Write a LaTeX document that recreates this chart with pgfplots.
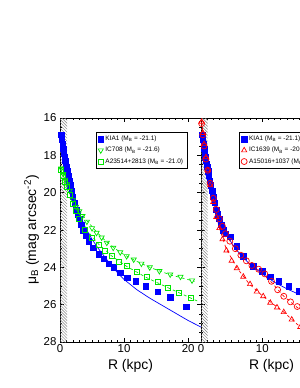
\documentclass[border=0pt]{standalone}
\usepackage{pgfplots}
\pgfplotsset{compat=1.18}
\usepackage{fontspec}
\setmainfont{Liberation Sans}
\usetikzlibrary{patterns}
\definecolor{mblue}{RGB}{0,0,255}
\definecolor{mgreen}{RGB}{0,230,0}
\definecolor{mred}{RGB}{255,0,0}
\pgfplotsset{
 panel/.style={
  scale only axis, width=141bp, height=224bp,
  y dir=reverse, ymin=16, ymax=28,
  ytick={16,18,...,28}, minor y tick num=3,
  xtick={0,10,20}, minor x tick num=9,
  tick align=inside, tick pos=both,
  major tick length=4bp, minor tick length=2bp,
  every tick/.style={black, line width=0.5pt},
  axis line style={line width=0.6pt},
  /pgf/number format/assume math mode=true,
  tick label style={font=\fontsize{11.5}{12}\selectfont},
  xticklabel style={yshift=1bp},
  label style={font=\fontsize{14}{14}\selectfont},
  xlabel={R (kpc)},
  legend cell align=left,
  legend style={font=\fontsize{6.5}{7.5}\selectfont, draw=black, line width=0.6pt,
     inner sep=1.8bp, row sep=1bp, anchor=north west},
  clip=true,
 },
 hatch/.style={draw=none, pattern=north west lines, pattern color=gray, forget plot},
}
\begin{document}
\begin{tikzpicture}[x=1bp,y=1bp]
\clip (0,0) rectangle (300,388);
\begin{axis}[panel, at={(60bp,46bp)}, anchor=south west, xmin=0, xmax=22,
  ylabel={μ\textsubscript{B} (mag arcsec\textsuperscript{-2})},
  ylabel style={xshift=0bp, yshift=-2bp},
  legend style={at={(rel axis cs:0.255,0.9375)}}]
\addplot[hatch] coordinates {(0,16) (1.1,16) (1.1,28) (0,28)} -- cycle;
% KIA1 fit
\addplot[mblue, line width=0.7pt, forget plot] coordinates {
(0.2,16.9)(0.5,17.6)(1,18.5)(1.5,19.3)(2,20.0)(3,21.1)(4,21.9)(5,22.5)(6,23.0)(7,23.45)(8,23.9)(9,24.3)(10,24.65)(12,25.2)(14,25.65)(16,26.05)(18,26.45)(20,26.85)(22,27.2)};
% IC708 fit
\addplot[mgreen, dashed, line width=0.7pt, forget plot] coordinates {
(0.1,18.6)(1,19.4)(2,20.3)(3,20.95)(4.2,21.5)(5.7,22.1)(7.3,22.65)(9.4,23.2)(11.5,23.6)(14,24.0)(17.2,24.4)(21,24.75)};
% A23514 fit
\addplot[mgreen, dashed, line width=0.7pt, forget plot] coordinates {
(0.1,18.7)(1,19.5)(2,20.5)(3,21.3)(3.9,21.9)(6,22.75)(8.1,23.4)(10.4,23.95)(13.5,24.55)(16.9,25.1)(21.4,25.8)};
\addplot[only marks, mark=square*, mark size=2.7bp, color=mblue] coordinates {
(0.2,16.9)(0.3,17.15)(0.4,17.4)(0.5,17.65)(0.6,17.9)(0.7,18.1)(0.8,18.3)(0.9,18.45)(1.0,18.6)(1.15,18.85)(1.3,19.1)(1.45,19.35)(1.6,19.6)(1.8,19.9)(2.0,20.2)(2.25,20.55)(2.5,20.9)(2.75,21.15)(3.0,21.4)(3.3,21.7)(3.6,22.0)(4.0,22.3)(4.5,22.6)(5.2,22.95)(6.0,23.3)(6.8,23.55)(7.6,23.8)(8.4,24.0)(9.4,24.3)(10.5,24.55)(11.8,24.74)(13.4,25.0)(15.2,25.3)(17.2,25.6)(19.7,26.1)};
\addlegendentry{KIA1 (M\textsubscript{B} = -21.1)}
\addplot[only marks, mark=triangle, mark size=3bp, color=mgreen, line width=0.7pt,
  every mark/.append style={rotate=180}] coordinates {
(0.2,18.7)(0.5,19.0)(0.8,19.3)(1.1,19.55)(1.5,19.9)(2.0,20.4)(2.5,20.75)(3.0,21.0)(3.5,21.25)(4.2,21.55)(5.0,21.9)(5.7,22.15)(6.5,22.4)(7.3,22.68)(8.3,22.95)(9.4,23.19)(10.4,23.4)(11.5,23.58)(12.7,23.8)(14.0,24.0)(15.5,24.2)(17.2,24.38)(18.8,24.5)(20.6,24.7)};
\addlegendentry{IC708 (M\textsubscript{B} = -21.6)}
\addplot[only marks, mark=square, mark size=2.5bp, color=mgreen, line width=0.7pt] coordinates {
(0.2,18.8)(0.5,19.1)(0.8,19.4)(1.1,19.7)(1.5,20.1)(2.0,20.6)(2.5,21.0)(3.0,21.4)(3.9,21.97)(5.0,22.4)(6.0,22.78)(7.0,23.1)(8.1,23.4)(9.2,23.7)(10.4,23.94)(12.0,24.25)(13.5,24.52)(15.2,24.8)(16.9,25.1)(18.6,25.36)(20.4,25.65)};
\addlegendentry{A23514+2813 (M\textsubscript{B} = -21.0)}
\end{axis}
\begin{axis}[panel, at={(201bp,46bp)}, anchor=south west, xmin=0, xmax=23,
  yticklabels={},
  legend style={at={(rel axis cs:0.27,0.9375)}}]
\addplot[hatch] coordinates {(0,16) (1.1,16) (1.1,28) (0,28)} -- cycle;
\addplot[mblue, line width=0.7pt, forget plot] coordinates {
(0.2,16.9)(1,18.6)(2,20.2)(3,21.3)(4,22.1)(5,22.7)(6,23.15)(8,23.85)(10,24.35)(12,24.8)(14,25.15)(16,25.45)(18,25.75)(20,26.0)(23,26.4)};
% IC1639 fit
\addplot[mred, dashed, line width=0.7pt, forget plot] coordinates {
(0.1,16.2)(1.1,18.8)(2,20.5)(3,21.9)(4.1,23.0)(5.8,24.0)(7.9,24.9)(10.1,25.55)(13.5,26.4)(16.2,27.2)(19,28.1)};
% A15016 fit
\addplot[mred, dashed, line width=0.7pt, forget plot] coordinates {
(0.1,16.3)(1.1,18.8)(2,20.3)(3,21.4)(4,22.2)(5.5,23.0)(7.3,23.65)(9.4,24.15)(11.5,24.8)(13.5,25.55)(15.7,26.15)(18,26.7)(23,27.9)};
\addplot[only marks, mark=square*, mark size=2.7bp, color=mblue] coordinates {
(0.2,16.9)(0.3,17.15)(0.4,17.4)(0.5,17.65)(0.6,17.9)(0.7,18.1)(0.8,18.3)(0.9,18.45)(1.0,18.6)(1.15,18.85)(1.3,19.1)(1.45,19.35)(1.6,19.6)(1.8,19.9)(2.0,20.2)(2.25,20.55)(2.5,20.9)(2.75,21.15)(3.0,21.4)(3.3,21.7)(3.6,22.0)(4.0,22.2)(4.75,22.35)(5.85,22.87)(6.9,23.4)(8.5,23.94)(10.0,24.2)(11.3,24.5)(12.7,24.74)(14.3,25.0)(16.0,25.27)(18.2,25.6)(20.8,26.1)};
\addlegendentry{KIA1 (M\textsubscript{B} = -21.1)}
\addplot[only marks, mark=triangle, mark size=3bp, color=mred, line width=0.7pt] coordinates {
(0.1,16.2)(0.3,16.8)(0.5,17.4)(0.8,18.1)(1.1,18.8)(1.5,19.6)(2.0,20.5)(2.5,21.3)(3.0,21.9)(3.5,22.5)(4.15,23.1)(5.0,23.65)(5.85,24.05)(6.9,24.5)(8.0,24.9)(9.1,25.3)(10.15,25.55)(11.3,25.9)(12.4,26.15)(13.5,26.4)(14.8,26.8)(16.2,27.2)(17.5,27.6)};
\addlegendentry{IC1639 (M\textsubscript{B} = -20.6)}
\addplot[only marks, mark=o, mark size=3bp, color=mred, line width=0.7pt] coordinates {
(0.1,16.3)(0.3,16.9)(0.5,17.5)(0.8,18.2)(1.1,18.8)(1.5,19.5)(2.0,20.3)(2.5,20.9)(3.0,21.4)(3.5,21.8)(4.0,22.2)(4.7,22.6)(5.6,23.0)(6.5,23.35)(7.4,23.65)(8.3,23.9)(9.4,24.1)(10.4,24.35)(11.5,24.75)(12.5,25.2)(13.5,25.55)(14.6,25.85)(15.7,26.1)(16.8,26.45)};
\addlegendentry{A15016+1037 (M\textsubscript{B} = -21.2)}
\end{axis}
\end{tikzpicture}
\end{document}
